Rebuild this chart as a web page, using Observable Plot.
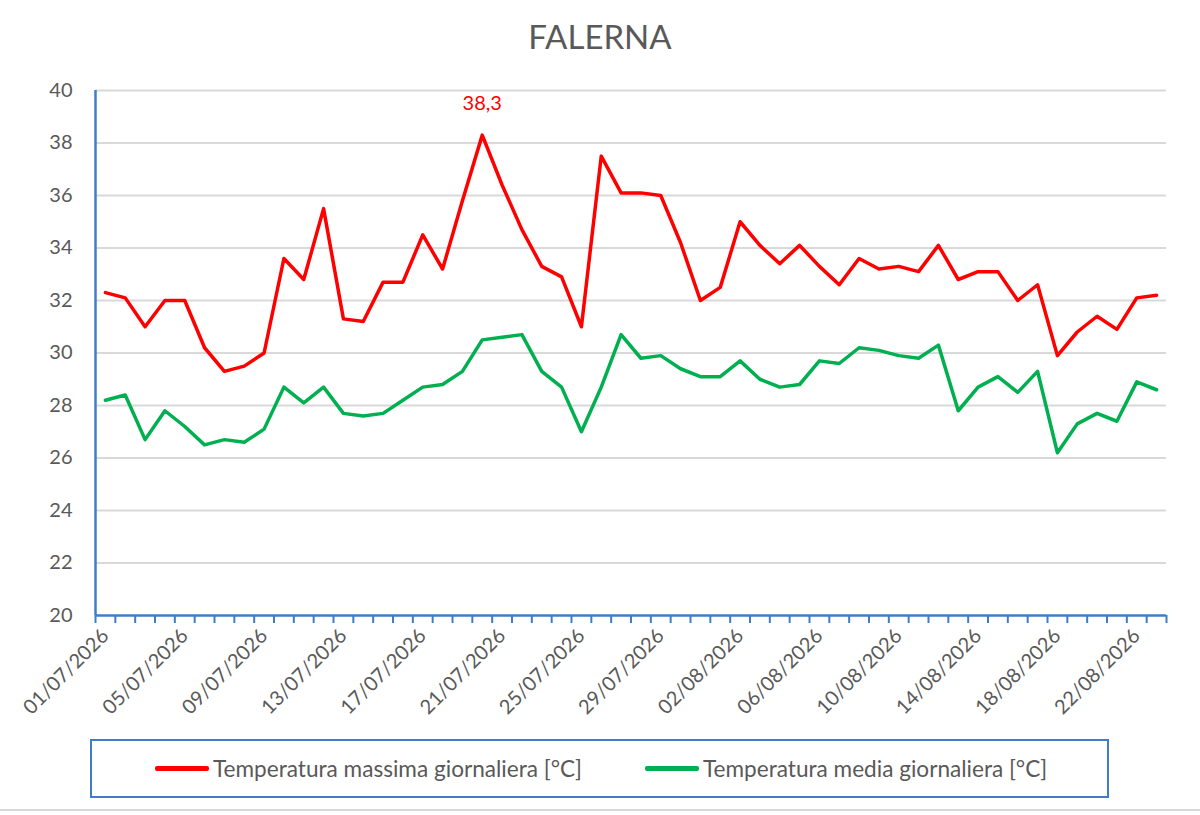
<!DOCTYPE html>
<html>
<head>
<meta charset="utf-8">
<script src="https://cdn.jsdelivr.net/npm/d3@7"></script>
<script src="https://cdn.jsdelivr.net/npm/@observablehq/plot@0.6"></script>
<style>
  html, body { margin: 0; padding: 0; background: #fff; }
  body { width: 1200px; height: 815px; position: relative; overflow: hidden; font-family: Lato, "Open Sans", sans-serif; color: #595959; }
  #title { position: absolute; left: 0; top: 0; width: 1200px; height: 60px; text-align: center; font-size: 33px; line-height: 72px; color: #595959; }
  #chart { position: absolute; left: 0; top: 60px; }
  #legend { position: absolute; left: 90px; top: 739px; width: 1015px; height: 55px; border: 2px solid #3F7DC9; box-sizing: content-box; }
  .item { position: absolute; top: 0; height: 55px; display: flex; align-items: center; font-size: 22.6px; color: #595959; }
  .sw { width: 54px; height: 5px; border-radius: 2px; margin-right: 4px; }
  #bottomline { position: absolute; left: 0; top: 809px; width: 1200px; height: 2px; background: #D9D9D9; }
</style>
</head>
<body>
<div id="title"></div>
<div id="chart"></div>
<div id="legend"></div>
<div id="bottomline"></div>
<script>
const chartTitle = "FALERNA";
const dates = [
  "01/07/2026","02/07/2026","03/07/2026","04/07/2026","05/07/2026","06/07/2026","07/07/2026","08/07/2026",
  "09/07/2026","10/07/2026","11/07/2026","12/07/2026","13/07/2026","14/07/2026","15/07/2026","16/07/2026",
  "17/07/2026","18/07/2026","19/07/2026","20/07/2026","21/07/2026","22/07/2026","23/07/2026","24/07/2026",
  "25/07/2026","26/07/2026","27/07/2026","28/07/2026","29/07/2026","30/07/2026","31/07/2026","01/08/2026",
  "02/08/2026","03/08/2026","04/08/2026","05/08/2026","06/08/2026","07/08/2026","08/08/2026","09/08/2026",
  "10/08/2026","11/08/2026","12/08/2026","13/08/2026","14/08/2026","15/08/2026","16/08/2026","17/08/2026",
  "18/08/2026","19/08/2026","20/08/2026","21/08/2026","22/08/2026","23/08/2026"
];
const tMax = [
  32.3, 32.1, 31.0, 32.0, 32.0, 30.2, 29.3, 29.5, 30.0, 33.6,
  32.8, 35.5, 31.3, 31.2, 32.7, 32.7, 34.5, 33.2, 35.8, 38.3,
  36.4, 34.7, 33.3, 32.9, 31.0, 37.5, 36.1, 36.1, 36.0, 34.2,
  32.0, 32.5, 35.0, 34.1, 33.4, 34.1, 33.3, 32.6, 33.6, 33.2,
  33.3, 33.1, 34.1, 32.8, 33.1, 33.1, 32.0, 32.6, 29.9, 30.8,
  31.4, 30.9, 32.1, 32.2
];
const tMed = [
  28.2, 28.4, 26.7, 27.8, 27.2, 26.5, 26.7, 26.6, 27.1, 28.7,
  28.1, 28.7, 27.7, 27.6, 27.7, 28.2, 28.7, 28.8, 29.3, 30.5,
  30.6, 30.7, 29.3, 28.7, 27.0, 28.7, 30.7, 29.8, 29.9, 29.4,
  29.1, 29.1, 29.7, 29.0, 28.7, 28.8, 29.7, 29.6, 30.2, 30.1,
  29.9, 29.8, 30.3, 27.8, 28.7, 29.1, 28.5, 29.3, 26.2, 27.3,
  27.7, 27.4, 28.9, 28.6
];
const seriesNames = ["Temperatura massima giornaliera [°C]", "Temperatura media giornaliera [°C]"];
const seriesColors = ["#FF0000", "#00B050"];
const yTicks = [20, 22, 24, 26, 28, 30, 32, 34, 36, 38, 40];
const labelStep = 4;

document.getElementById("title").textContent = chartTitle;

const idx = dates.map((d, i) => i);
const maxRows = idx.map(i => ({i, v: tMax[i]}));
const medRows = idx.map(i => ({i, v: tMed[i]}));
const labelIdx = idx.filter(i => i % labelStep === 0);
const boundaries = d3.range(dates.length + 1).map(k => k - 0.5);
const peakI = d3.maxIndex(tMax);
const axisBlue = "#3F7DC9";

const plot = Plot.plot({
  width: 1200,
  height: 670,
  marginTop: 30,
  marginBottom: 115,
  marginLeft: 95,
  marginRight: 34,
  style: { fontFamily: "Lato, 'Open Sans', sans-serif", fontSize: "20px", color: "#595959", background: "transparent" },
  x: { type: "linear", domain: [-0.5, dates.length - 0.5] },
  y: { type: "linear", domain: [20, 40] },
  marks: [
    Plot.gridY(yTicks.filter(t => t > 20), { stroke: "#D9D9D9", strokeWidth: 2, strokeOpacity: 1 }),
    Plot.axisY(yTicks, { tickSize: 0, tickPadding: 23, label: null, fill: "#595959", fontSize: 20 }),
    Plot.axisX(labelIdx, {
      tickSize: 0, tickPadding: 17, tickRotate: -45, label: null,
      tickFormat: i => dates[i], fill: "#595959", fontSize: 20
    }),
    Plot.axisX(boundaries, { tickSize: 8, tickFormat: () => "", stroke: axisBlue, strokeWidth: 2, label: null, strokeOpacity: 1 }),
    Plot.ruleY([20], { stroke: axisBlue, strokeWidth: 2.5 }),
    Plot.ruleX([-0.5], { stroke: axisBlue, strokeWidth: 2.5 }),
    Plot.line(medRows, { x: "i", y: "v", stroke: seriesColors[1], strokeWidth: 3.5, strokeLinejoin: "round" }),
    Plot.line(maxRows, { x: "i", y: "v", stroke: seriesColors[0], strokeWidth: 3.5, strokeLinejoin: "round" }),
    Plot.text([peakI], {
      x: d => d, y: d => tMax[d], text: d => tMax[d].toFixed(1).replace(".", ","),
      dy: -32, fill: seriesColors[0], fontSize: 20
    })
  ]
});
document.getElementById("chart").appendChild(plot);

const legend = document.getElementById("legend");
const positions = [63, 553];
seriesNames.forEach((name, k) => {
  const it = document.createElement("div");
  it.className = "item";
  it.style.left = positions[k] + "px";
  const sw = document.createElement("div");
  sw.className = "sw";
  sw.style.background = seriesColors[k];
  const tx = document.createElement("span");
  tx.textContent = name;
  it.appendChild(sw);
  it.appendChild(tx);
  legend.appendChild(it);
});
</script>
</body>
</html>
